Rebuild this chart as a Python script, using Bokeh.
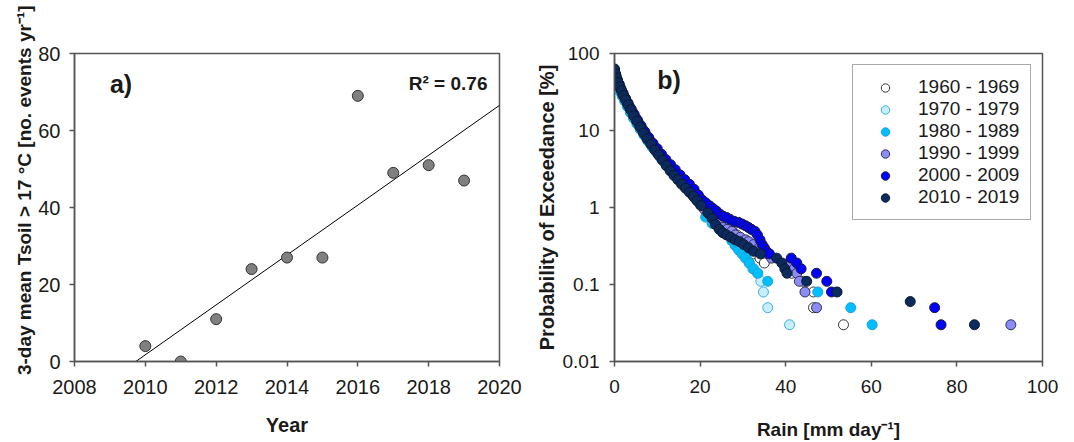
from bokeh.plotting import figure
from bokeh.layouts import row
from bokeh.models import Label, Legend, LegendItem, FixedTicker, CustomJSTickFormatter, Range1d, Title
from bokeh.embed import file_html
from bokeh.resources import INLINE
import numpy as np

# ---------------- Panel a data ----------------
YEARS = [2010, 2011, 2012, 2013, 2014, 2015, 2016, 2017, 2018, 2019]
EVENTS = [4, 0, 11, 24, 27, 27, 69, 49, 51, 47]
YEAR_TICKS = [2008, 2010, 2012, 2014, 2016, 2018, 2020]
EVENT_TICKS = [0, 20, 40, 60, 80]
R2_TEXT = "R\u00b2 = 0.76"

# ---------------- Panel b data ----------------
DECADES = ["1960 - 1969", "1970 - 1979", "1980 - 1989", "1990 - 1999", "2000 - 2009", "2010 - 2019"]

RAIN_1960 = [0, 0.3, 0.7, 1.1, 1.6, 2.2, 2.8, 3.5, 4.2, 5.0, 5.8, 6.7, 7.6, 8.6, 9.6, 10.6, 11.7, 12.8, 13.9, 15.0,
             16.2, 17.4, 18.6, 19.8, 21.2, 22.6, 24.0, 25.5, 27.0, 27.5, 28.6, 29.8, 31.4, 32.5, 34.0, 35.0, 41.4,
             44.2, 46.5, 46.5, 53.5]
PEX_1960 = [60, 51, 44, 39, 33, 28, 24, 20.5, 17.5, 14.5, 12.2, 10.2, 8.5, 7.1, 5.9, 5.0, 4.2, 3.5, 3.0, 2.55,
            2.15, 1.85, 1.58, 1.35, 1.1, 0.92, 0.78, 0.66, 0.55, 0.5, 0.44, 0.38, 0.3, 0.25, 0.22, 0.19, 0.14,
            0.11, 0.08, 0.05, 0.03]

RAIN_1970 = [0, 0.25, 0.6, 1.0, 1.4, 1.9, 2.5, 3.1, 3.8, 4.6, 5.4, 6.3, 7.2, 8.1, 9.1, 10.1, 11.1, 12.2, 13.3, 14.4,
             15.6, 16.8, 18.0, 19.2, 20.4, 21.6, 22.8, 24.0, 25.3, 26.6, 27.8, 29.0, 29.6, 30.2, 30.8, 31.5, 32.3,
             33.4, 34.2, 34.8, 35.8, 40.9]
PEX_1970 = [58, 50, 43, 37, 32, 28, 24, 20.5, 17, 14.2, 12, 10, 8.4, 7.1, 6.0, 5.1, 4.3, 3.65, 3.1, 2.65,
            2.25, 1.9, 1.6, 1.35, 1.12, 0.95, 0.8, 0.68, 0.57, 0.47, 0.38, 0.3, 0.27, 0.25, 0.22, 0.19, 0.16,
            0.14, 0.11, 0.08, 0.05, 0.03]

RAIN_1980 = [0, 0.2, 0.5, 0.9, 1.3, 1.8, 2.4, 3.0, 3.7, 4.4, 5.2, 6.0, 6.9, 7.8, 8.8, 9.8, 10.8, 11.9, 13.0, 14.1,
             15.2, 16.4, 17.6, 18.8, 20.0, 21.3, 22.8, 24.5, 26.0, 27.4, 28.2, 29.0, 29.8, 30.6, 31.5, 32.5, 33.5,
             35.8, 47.5, 55.2, 60.2]
PEX_1980 = [57, 49, 43, 37, 32, 28, 24, 20.5, 17.2, 14.6, 12.3, 10.4, 8.7, 7.3, 6.1, 5.2, 4.4, 3.7, 3.15, 2.7,
            2.3, 1.95, 1.65, 1.4, 1.15, 0.75, 0.62, 0.53, 0.45, 0.37, 0.32, 0.28, 0.25, 0.22, 0.19, 0.16, 0.14,
            0.11, 0.08, 0.05, 0.03]

RAIN_1990 = [0, 0.3, 0.6, 1.0, 1.4, 1.9, 2.4, 3.0, 3.6, 4.3, 5.0, 5.8, 6.6, 7.5, 8.4, 9.3, 10.3, 11.3, 12.3, 13.4,
             14.5, 15.6, 16.7, 17.8, 18.9, 20.0, 21.0, 22.2, 23.5, 24.5, 25.3, 26.3, 27.4, 28.2, 29.4, 30.6, 31.3,
             32.5, 33.8, 35.0, 36.0, 36.7, 40.7, 42.0, 42.6, 43.2, 44.5, 47.2, 92.6]
PEX_1990 = [61, 52, 46, 40, 35, 30, 26.5, 22.5, 19.5, 16.5, 14, 11.8, 10, 8.4, 7.1, 6.0, 5.0, 4.2, 3.5, 2.95,
            2.5, 2.1, 1.8, 1.55, 1.3, 1.1, 0.95, 0.82, 0.7, 0.62, 0.55, 0.52, 0.49, 0.44, 0.41, 0.38, 0.36,
            0.33, 0.3, 0.27, 0.25, 0.22, 0.19, 0.16, 0.14, 0.11, 0.08, 0.05, 0.03]

RAIN_2000 = [0, 0.3, 0.7, 1.1, 1.5, 2.0, 2.6, 3.2, 3.9, 4.6, 5.4, 6.2, 7.1, 8.0, 9.0, 10.0, 11.0, 12.0, 13.1, 14.2,
             15.3, 16.4, 17.5, 18.6, 19.6, 20.5, 21.3, 22.2, 23.0, 23.8, 24.6, 25.4, 26.2, 27.0, 28.0, 29.0, 29.8,
             30.6, 31.3, 32.0, 32.8, 33.4, 34.0, 34.5, 35.0, 35.5, 36.2, 41.3, 42.6, 43.6, 47.2, 49.6, 50.7,
             74.8, 76.3]
PEX_2000 = [62, 53, 45, 40, 35, 30.5, 26, 22.5, 19, 16.2, 13.6, 11.5, 9.6, 8.1, 6.8, 5.8, 4.9, 4.2, 3.6, 3.1,
            2.65, 2.3, 2.0, 1.72, 1.45, 1.25, 1.15, 1.05, 0.97, 0.9, 0.82, 0.77, 0.74, 0.7, 0.66, 0.64, 0.61,
            0.58, 0.55, 0.52, 0.49, 0.44, 0.38, 0.33, 0.3, 0.27, 0.25, 0.22, 0.19, 0.16, 0.14, 0.11, 0.08,
            0.05, 0.03]

RAIN_2010 = [0, 0.2, 0.5, 0.8, 1.2, 1.6, 2.1, 2.6, 3.2, 3.8, 4.5, 5.2, 6.0, 6.8, 7.6, 8.5, 9.4, 10.3, 11.2, 12.1,
             13.0, 13.9, 14.8, 15.7, 16.6, 17.5, 18.4, 19.3, 20.2, 21.8, 22.8, 23.6, 24.5, 25.3, 26.2, 27.2, 28.2,
             29.2, 30.2, 31.3, 32.5, 34.1, 37.9, 39.1, 39.8, 40.3, 44.9, 52.0, 69.1, 84.1]
PEX_2010 = [63, 55, 48, 42, 37, 33, 28.5, 25, 21.5, 18.5, 15.5, 13.2, 11, 9.2, 7.8, 6.6, 5.6, 4.8, 4.1, 3.5,
            3.0, 2.6, 2.3, 2.0, 1.78, 1.58, 1.4, 1.22, 1.06, 0.85, 0.72, 0.6, 0.52, 0.47, 0.44, 0.41, 0.38,
            0.36, 0.33, 0.3, 0.27, 0.25, 0.22, 0.19, 0.16, 0.14, 0.11, 0.08, 0.06, 0.03]

RAIN_TICKS = [0, 20, 40, 60, 80, 100]
PEX_TICKS = [0.01, 0.1, 1, 10, 100]

FILLS = ["#ffffff", "#c8eefc", "#00bfff", "#8c8cf5", "#0000ff", "#0d2a5c"]
LINES = ["#333333", "#3aaee6", "#1e9fd6", "#2e2e5e", "#1a1a40", "#0a1a33"]

FONT = "Liberation Sans"
AXIS_COLOR = "#555555"


def style_axes(p, tick_size):
    p.grid.visible = False
    p.outline_line_color = AXIS_COLOR
    p.outline_line_width = 1.5
    p.background_fill_color = "white"
    p.border_fill_color = "white"
    for ax in (p.xaxis, p.yaxis):
        ax.axis_line_color = AXIS_COLOR
        ax.axis_line_width = 1.5
        ax.major_tick_line_color = AXIS_COLOR
        ax.major_tick_line_width = 1.5
        ax.major_tick_in = 0
        ax.major_tick_out = 5
        ax.minor_tick_line_color = None
        ax.major_label_text_font = FONT
        ax.major_label_text_font_size = tick_size
        ax.major_label_text_color = "#1a1a1a"
        ax.axis_label_text_font = FONT
        ax.axis_label_text_font_style = "bold"
        ax.axis_label_text_color = "#1a1a1a"


# ---------------- Panel a ----------------
pa = figure(width=532, height=442, x_range=Range1d(2008, 2020), y_range=Range1d(0, 80),
            output_backend="svg", toolbar_location=None,
            min_border_left=74, min_border_right=33, min_border_top=53, min_border_bottom=81)
style_axes(pa, "20px")
pa.xaxis.ticker = FixedTicker(ticks=YEAR_TICKS)
pa.yaxis.ticker = FixedTicker(ticks=EVENT_TICKS)
pa.xaxis.axis_label = "Year"
pa.xaxis.axis_label_text_font_size = "20px"
pa.xaxis.major_label_standoff = 13
pa.yaxis.major_label_standoff = 9
pa.xaxis.axis_label_standoff = 17

# y-axis title as a side title, ending near the top of the canvas as in the original
pa.add_layout(Title(text="3-day mean Tsoil > 17 \u00b0C [no. events yr\u207b\u00b9]", align="right",
                    offset=-48, standoff=2, text_font=FONT, text_font_size="19px",
                    text_font_style="bold", text_color="#1a1a1a"), "left")

slope, intercept = np.polyfit(YEARS, EVENTS, 1)
x0 = -intercept / slope
x1 = 2020
pa.line([x0, x1], [slope * x0 + intercept, slope * x1 + intercept], line_color="black", line_width=1)
pa.scatter(YEARS, EVENTS, size=11, fill_color="#808080", line_color="#333333", line_width=1)

pa.add_layout(Label(x=2009.0, y=72.2, text="a)", text_font=FONT, text_font_size="25px",
                    text_font_style="bold", text_baseline="middle", text_color="#1a1a1a"))
pa.add_layout(Label(x=2019.66, y=72.2, text=R2_TEXT, text_font=FONT, text_font_size="19px",
                    text_font_style="bold", text_baseline="middle", text_align="right", text_color="#1a1a1a"))

# ---------------- Panel b ----------------
pb = figure(width=542, height=442, x_range=Range1d(0, 100), y_range=Range1d(0.01, 100), y_axis_type="log",
            output_backend="svg", toolbar_location=None,
            min_border_left=80, min_border_right=32, min_border_top=53, min_border_bottom=81)
style_axes(pb, "19px")
pb.xaxis.ticker = FixedTicker(ticks=RAIN_TICKS)
pb.yaxis.ticker = FixedTicker(ticks=PEX_TICKS)
pb.yaxis.formatter = CustomJSTickFormatter(code="return tick.toString();")
pb.xaxis.axis_label = "Rain [mm day\u207b\u00b9]"
pb.yaxis.axis_label = "Probability of Exceedance [%]"
pb.xaxis.axis_label_text_font_size = "19px"
pb.yaxis.axis_label_text_font_size = "20px"
pb.xaxis.major_label_standoff = 13
pb.yaxis.major_label_standoff = 10
pb.xaxis.axis_label_standoff = 23
pb.yaxis.axis_label_standoff = 2

series = [(RAIN_1960, PEX_1960), (RAIN_1970, PEX_1970), (RAIN_1980, PEX_1980),
          (RAIN_1990, PEX_1990), (RAIN_2000, PEX_2000), (RAIN_2010, PEX_2010)]
items = []
for (rx, py), lab, fc, lc in zip(series, DECADES, FILLS, LINES):
    r = pb.scatter(rx, py, size=10, fill_color=fc, line_color=lc, line_width=1)
    items.append(LegendItem(label=lab, renderers=[r]))

legend = Legend(items=items, location=(238, 141), padding=11, spacing=0, margin=0,
                label_height=21, glyph_height=21, glyph_width=42, label_standoff=12,
                label_text_font=FONT, label_text_font_size="19px", label_text_color="#1a1a1a",
                border_line_color=AXIS_COLOR, border_line_width=1.5, background_fill_alpha=1.0)
pb.add_layout(legend, "center")

pb.add_layout(Label(x=10, y=44.7, text="b)", text_font=FONT, text_font_size="25px",
                    text_font_style="bold", text_baseline="middle", text_color="#1a1a1a"))

layout = row(pa, pb)
open("out.html", "w").write(file_html(layout, INLINE))
